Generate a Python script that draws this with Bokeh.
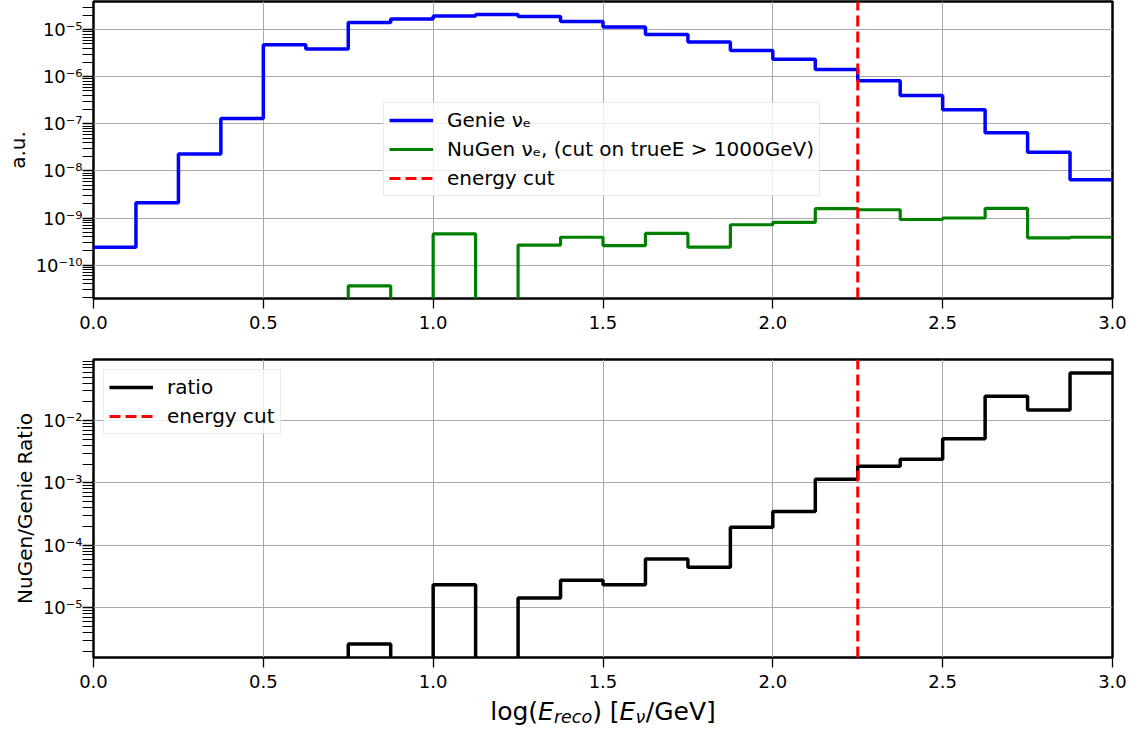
import numpy as np
from bokeh.plotting import figure
from bokeh.layouts import column
from bokeh.models import Range1d, FixedTicker, CustomJSTickFormatter, Label
from bokeh.embed import file_html
from bokeh.resources import INLINE

# Histogram bin edges in log10(E_reco / GeV)
bin_edges = [0.0, 0.125, 0.25, 0.375, 0.5, 0.625, 0.75, 0.875, 1.0, 1.125, 1.25, 1.375,
             1.5, 1.625, 1.75, 1.875, 2.0, 2.125, 2.25, 2.375, 2.5, 2.625, 2.75, 2.875, 3.0]

# Normalised event rates per bin (arbitrary units)
genie_nue = [2.4e-10, 2.1e-9, 2.3e-8, 1.3e-7, 4.8e-6, 3.9e-6, 1.43e-5, 1.7e-5,
             1.95e-5, 2.1e-5, 1.9e-5, 1.5e-5, 1.14e-5, 7.9e-6, 5.5e-6, 3.6e-6,
             2.37e-6, 1.43e-6, 8.2e-7, 4.0e-7, 2.0e-7, 6.5e-8, 2.5e-8, 6.5e-9]
nugen_nue = [0, 0, 0, 0, 0, 0, 3.6e-11, 0,
             4.6e-10, 0, 2.66e-10, 3.9e-10, 2.6e-10, 4.7e-10, 2.4e-10, 7.2e-10,
             8.1e-10, 1.58e-9, 1.5e-9, 9.3e-10, 1.0e-9, 1.6e-9, 3.8e-10, 3.9e-10]

# NuGen / Genie ratio per bin
ratio = [0, 0, 0, 0, 0, 0, 2.6e-6, 0,
         2.33e-5, 0, 1.43e-5, 2.74e-5, 2.33e-5, 6.0e-5, 4.45e-5, 1.95e-4,
         3.47e-4, 1.15e-3, 1.86e-3, 2.4e-3, 5.1e-3, 0.0245, 0.0148, 0.058]

energy_cut = 2.25

x_ticks = [0.0, 0.5, 1.0, 1.5, 2.0, 2.5, 3.0]
top_decades = [1e-10, 1e-9, 1e-8, 1e-7, 1e-6, 1e-5]
bottom_decades = [1e-5, 1e-4, 1e-3, 1e-2]

TOP_YRANGE = (10 ** -10.71, 10 ** -4.40)
BOTTOM_YRANGE = (10 ** -5.80, 10 ** -1.02)

FONT = "DejaVu Sans"
LOG_FLOOR = 1e-30  # empty bins drop below the visible range
W = 1142
LEFT, RIGHT = 93, 30


def step_xy(values):
    """Edges and values for a histogram drawn as a step line."""
    v = np.asarray(values, dtype=float)
    v = np.where(v > 0, v, LOG_FLOOR)
    return list(bin_edges), list(v) + [v[-1]]


def minor_ticks(lo, hi):
    out = []
    for e in range(int(np.floor(np.log10(lo))), int(np.ceil(np.log10(hi))) + 1):
        for k in range(2, 10):
            t = k * 10.0 ** e
            if lo <= t <= hi:
                out.append(t)
    return out


sup_js = """
const e = Math.round(Math.log10(tick));
const m = {"-":"\\u207b","0":"\\u2070","1":"\\u00b9","2":"\\u00b2","3":"\\u00b3",
           "4":"\\u2074","5":"\\u2075","6":"\\u2076","7":"\\u2077","8":"\\u2078","9":"\\u2079"};
return "10" + String(e).split("").map(c => m[c]).join("");
"""


def make_panel(height, border_top, border_bottom, yrange, decades, ylabel):
    p = figure(width=W, height=height, y_axis_type="log",
               x_range=Range1d(0.0, 3.0), y_range=Range1d(*yrange),
               output_backend="svg", toolbar_location=None,
               min_border_left=LEFT, min_border_right=RIGHT,
               min_border_top=border_top, min_border_bottom=border_bottom)
    p.background_fill_color = "white"
    p.border_fill_color = "white"
    p.outline_line_color = "black"
    p.outline_line_width = 2.5

    xt = FixedTicker(ticks=x_ticks)
    p.xaxis.ticker = xt
    p.xgrid.ticker = xt
    p.xaxis.formatter = CustomJSTickFormatter(code="return tick.toFixed(1);")
    yt = FixedTicker(ticks=decades, minor_ticks=minor_ticks(*yrange))
    p.yaxis.ticker = yt
    p.ygrid.ticker = yt
    p.yaxis.formatter = CustomJSTickFormatter(code=sup_js)

    for ax in (p.xaxis, p.yaxis):
        ax.axis_line_color = None
        ax.major_tick_line_color = "black"
        ax.major_tick_line_width = 1.3
        ax.major_tick_in = 0
        ax.minor_tick_in = 0
        ax.major_label_text_font = FONT
        ax.major_label_text_font_size = "18px"
        ax.major_label_text_color = "black"
        ax.axis_label_text_font = FONT
        ax.axis_label_text_font_style = "normal"
        ax.axis_label_text_font_size = "20px"
        ax.axis_label_text_color = "black"
    p.xaxis.major_tick_out = 10
    p.xaxis.minor_tick_line_color = None
    p.xaxis.major_label_standoff = 7
    p.yaxis.major_tick_out = 11
    p.yaxis.minor_tick_out = 11
    p.yaxis.minor_tick_line_color = "black"
    p.yaxis.minor_tick_line_width = 1
    p.yaxis.major_label_standoff = 0
    p.yaxis.axis_label = ylabel
    p.yaxis.axis_label_standoff = 3

    for g in (p.xgrid, p.ygrid):
        g.grid_line_color = "#a9a9a9"
        g.grid_line_width = 1
    return p


def style_legend(p):
    lg = p.legend[0]
    lg.label_text_font = FONT
    lg.label_text_font_size = "20px"
    lg.label_text_color = "black"
    lg.glyph_width = 44
    lg.glyph_height = 24
    lg.label_height = 24
    lg.label_standoff = 14
    lg.spacing = 5
    lg.padding = 5
    lg.background_fill_color = "white"
    lg.background_fill_alpha = 0.8
    lg.border_line_color = "#d4d4d4"
    lg.border_line_width = 1
    return lg


# ---------------- top panel: rates ----------------
top = make_panel(340, 1, 42, TOP_YRANGE, top_decades, "a.u.")
xs, ys = step_xy(genie_nue)
top.step(xs, ys, mode="after", line_color="#0000ff", line_width=3.5,
         legend_label="Genie \u03bd\u2091")
xs, ys = step_xy(nugen_nue)
top.step(xs, ys, mode="after", line_color="#008000", line_width=3.2,
         legend_label="NuGen \u03bd\u2091, (cut on trueE > 1000GeV)")
top.line([energy_cut, energy_cut], list(TOP_YRANGE), line_color="#ff0000",
         line_width=3, line_dash="11 5", legend_label="energy cut")
lg = style_legend(top)
lg.location = (290, 102)

# ---------------- bottom panel: ratio ----------------
bot = make_panel(355, 19, 38, BOTTOM_YRANGE, bottom_decades, "NuGen/Genie Ratio")
xs, ys = step_xy(ratio)
bot.step(xs, ys, mode="after", line_color="black", line_width=3.5, legend_label="ratio")
bot.line([energy_cut, energy_cut], list(BOTTOM_YRANGE), line_color="#ff0000",
         line_width=3, line_dash="11 5", legend_label="energy cut")
lg = style_legend(bot)
lg.location = "top_left"
lg.margin = 10

# ---------------- shared x-axis title: log(E_reco) [E_nu/GeV] ----------------
# A strip under the ratio panel that shares its horizontal frame, so the
# title is centred on the data area.
title_h = 34
xt_fig = figure(width=W, height=title_h, x_range=Range1d(0.0, 3.0),
                y_range=Range1d(0, title_h),
                output_backend="svg", toolbar_location=None,
                x_axis_location=None, y_axis_location=None,
                min_border_left=LEFT, min_border_right=RIGHT,
                min_border_top=0, min_border_bottom=0)
xt_fig.grid.visible = False
xt_fig.outline_line_color = None
xt_fig.background_fill_color = "white"
xt_fig.border_fill_color = "white"

ADV = {"l": .278, "o": .612, "g": .635, "(": .390, ")": .390, "E": .632, "r": .411,
       "e": .615, "c": .550, " ": .318, "[": .390, "]": .390, "\u03bd": .592,
       "/": .337, "G": .775, "V": .684}
F, S = 25.0, 17.5
pieces = [("log(", F, "normal", 0), ("E", F, "italic", 0), ("reco", S, "italic", -5),
          (") [", F, "normal", 0), ("E", F, "italic", 0), ("\u03bd", S, "italic", -5),
          ("/GeV]", F, "normal", 0)]
widths = [sum(ADV[c] for c in t) * size for t, size, _, _ in pieces]
offset = -sum(widths) / 2
base_y = 18
for (t, size, style, dy), w in zip(pieces, widths):
    xt_fig.add_layout(Label(x=1.5, y=base_y + dy, x_units="data", y_units="data",
                            x_offset=offset,
                            text=t, text_font=FONT, text_font_size=f"{size}px",
                            text_font_style=style, text_color="black",
                            text_align="left", text_baseline="alphabetic"))
    offset += w

layout = column(top, bot, xt_fig)
open("out.html", "w").write(file_html(layout, INLINE))
